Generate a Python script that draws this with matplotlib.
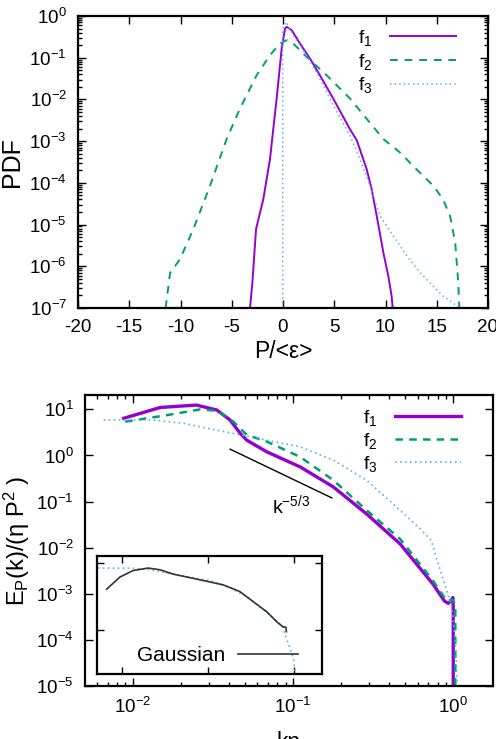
import numpy as np
import matplotlib
matplotlib.use("Agg")
from matplotlib import pyplot as plt
from matplotlib.ticker import LogLocator, NullFormatter, FixedLocator

plt.rcParams['font.family'] = ['Liberation Sans', 'DejaVu Sans']
plt.rcParams['mathtext.fontset'] = 'custom'
plt.rcParams['mathtext.rm'] = 'Liberation Sans'
plt.rcParams['mathtext.it'] = 'Liberation Sans:italic'
plt.rcParams['axes.unicode_minus'] = False
plt.rcParams['font.size'] = 13.5

C1 = '#9400d3'
C2 = '#009e73'
C3 = '#56b4e9'

# ---- top panel: PDF of P/<eps>
pdf1_x = [-3.22, -2.99, -2.63, -1.92, -1.27, -0.62, -0.13, 0.2, 0.36, 0.85, 1.66, 2.63,
          3.6, 4.9, 6.5, 7.2, 8.16, 8.65, 9.14, 9.79, 10.28, 10.6, 10.7]
pdf1_y = [1e-7, 10**-6.4, 10**-5.11, 10**-4.39, 10**-3.43, 10**-1.98, 10**-0.78, 10**-0.3,
          10**-0.26, 10**-0.34, 10**-0.66, 10**-1.02, 10**-1.42, 10**-1.98, 10**-2.7,
          10**-2.98, 10**-3.67, 10**-4.15, 10**-4.79, 10**-5.67, 10**-6.24, 10**-6.72, 1e-7]

pdf2_x = [-11.45, -11.02, -10.05, -8.75, -7.12, -5.5, -4.2, -2.57, -1.27, -0.29, 0.36, 1.0,
          2.3, 4.26, 6.54, 9.79, 11.4, 13.0, 14.67, 15.6, 16.3, 16.8, 17.1, 17.2]
pdf2_y = [1e-7, 10**-6.16, 10**-5.83, 10**-5.11, 10**-4.07, 10**-2.95, 10**-2.22, 10**-1.42,
          10**-0.94, 10**-0.66, 10**-0.58, 10**-0.66, 10**-0.98, 10**-1.42, 10**-1.98,
          10**-2.95, 10**-3.27, 10**-3.67, 10**-4.07, 10**-4.39, 10**-4.79, 10**-5.43,
          10**-6.4, 1e-7]

pdf3_x = [-0.03, -0.03, 0.29, 1.0, 2.3, 3.6, 4.9, 6.54, 7.5, 8.49, 9.46, 10.76, 12.07,
          13.4, 14.67, 15.64, 16.6, 17.1]
pdf3_y = [1e-7, 10**-0.3, 10**-0.14, 10**-0.46, 10**-0.94, 10**-1.5, 10**-2.14, 10**-2.87,
          10**-3.43, 10**-4.07, 10**-4.79, 10**-5.27, 10**-5.75, 10**-6.16, 10**-6.48,
          10**-6.72, 10**-6.88, 1e-7]

# ---- bottom panel: spectra
k1 = [0.0088, 0.0149, 0.025, 0.0335, 0.0405, 0.047, 0.0515, 0.0687, 0.111, 0.179, 0.288,
      0.466, 0.75, 0.88, 0.93, 0.975, 0.995, 1.0, 1.0]
E1 = [6.4, 11, 12.4, 9.7, 5.9, 3.0, 2.15, 1.2, 0.565, 0.207, 0.054, 0.0121, 0.0016,
      7.0e-4, 6.2e-4, 7.2e-4, 8.3e-4, 5e-4, 1e-6]

k2 = [0.009, 0.0164, 0.0264, 0.034, 0.0426, 0.0515, 0.0687, 0.111, 0.179, 0.288, 0.466,
      0.75, 0.91, 0.98, 1.03, 1.03]
E2 = [5.4, 7.5, 10, 9.3, 5.4, 2.8, 2.0, 0.93, 0.29, 0.065, 0.0155, 0.0019, 7e-4, 7.5e-4,
      6e-4, 1e-6]

k3 = [0.0066, 0.0088, 0.0129, 0.0208, 0.0291, 0.0426, 0.0625, 0.111, 0.179, 0.288, 0.466,
      0.62, 0.73, 0.78, 0.91, 0.98, 1.03, 1.06, 1.08]
E3 = [5.9, 5.9, 5.9, 5.0, 3.9, 3.0, 2.3, 1.54, 0.79, 0.29, 0.065, 0.026, 0.0143, 0.0063,
      0.0012, 5e-4, 1e-4, 1e-5, 1e-6]

# inset: Gaussian field spectrum vs f3
kg = [0.0066, 0.0094, 0.0134, 0.020, 0.0274, 0.039, 0.080, 0.149, 0.233, 0.333, 0.477,
      0.624, 0.733, 0.80, 0.81]
Eg = [0.67, 2.34, 4.6, 5.96, 5.0, 3.2, 1.77, 1.05, 0.526, 0.186, 0.066, 0.0234, 0.0139,
      0.0131, 0.0083]
k3i = [0.0052] + k3
E3i = [5.9] + E3

# k^-5/3 reference
kref = np.array([0.0406, 0.175])
Eref = 1.37 * (kref / kref[0]) ** (-5.0 / 3.0)

fig = plt.figure(figsize=(4.96, 7.39), dpi=100)

def style(ax):
    ax.tick_params(which='both', direction='in', top=True, right=True, width=1.0, pad=8)
    ax.tick_params(which='major', length=6)
    ax.tick_params(which='minor', length=3)
    for s in ax.spines.values():
        s.set_linewidth(1.6)

ax1 = fig.add_axes([78 / 496, 1 - 308 / 739, 410 / 496, 292 / 739])
ax1.plot(pdf1_x, pdf1_y, color=C1, lw=1.4, label='f$_1$')
ax1.plot(pdf2_x, pdf2_y, color=C2, lw=1.4, ls=(0, (4, 3.5)), label='f$_2$')
ax1.plot(pdf3_x, pdf3_y, color=C3, lw=1.1, ls=(0, (1, 2)), label='f$_3$')
ax1.set_yscale('log')
ax1.set_xlim(-20, 20)
ax1.set_ylim(1e-7, 1)
ax1.set_xticks(range(-20, 21, 5))
ax1.yaxis.set_major_locator(LogLocator(base=10, numticks=10))
ax1.yaxis.set_minor_locator(LogLocator(base=10, subs=np.arange(2, 10), numticks=20))
ax1.yaxis.set_minor_formatter(NullFormatter())
style(ax1)
ax1.set_xlabel('P/<ε>', fontsize=16.5, labelpad=3)
ax1.set_ylabel('PDF', fontsize=18, labelpad=4)
ax1.legend(loc='upper right', bbox_to_anchor=(0.95, 1.0), frameon=False, markerfirst=False,
           handlelength=3.4, labelspacing=0.2, handletextpad=0.9, borderaxespad=0.2,
           fontsize=14)

ax2 = fig.add_axes([85 / 496, 1 - 686 / 739, 408 / 496, 291 / 739])
ax2.plot(k1, E1, color=C1, lw=2.4, label='f$_1$')
ax2.plot(k2, E2, color=C2, lw=1.8, ls=(0, (3, 2.5)), label='f$_2$')
ax2.plot(k3, E3, color=C3, lw=1.2, ls=(0, (1, 2)), label='f$_3$')
ax2.plot(kref, Eref, color='black', lw=1.0)
ax2.text(0.097, 0.055, r'k$^{-5/3}$', ha='center', va='baseline', fontsize=14)
ax2.set_xscale('log')
ax2.set_yscale('log')
ax2.set_xlim(0.00505, 1.77)
ax2.set_ylim(1e-5, 20.5)
ax2.yaxis.set_major_locator(LogLocator(base=10, numticks=10))
ax2.yaxis.set_minor_locator(FixedLocator([]))
ax2.xaxis.set_minor_locator(LogLocator(base=10, subs=np.arange(2, 10), numticks=20))
ax2.xaxis.set_minor_formatter(NullFormatter())
style(ax2)
ax2.set_xlabel('kη', fontsize=16.5, labelpad=10)
ax2.set_ylabel(r'E$_\mathregular{P}$(k)/(η P$^2$ )', fontsize=17, labelpad=3)
ax2.legend(loc='upper right', bbox_to_anchor=(0.95, 0.995), frameon=False, markerfirst=False,
           handlelength=3.4, labelspacing=0.15, handletextpad=0.9, borderaxespad=0.2,
           fontsize=14)

ax3 = fig.add_axes([97 / 496, 1 - 674 / 739, 225 / 496, 118 / 739])
ax3.plot(k3i, E3i, color=C3, lw=1.2, ls=(0, (1, 2)))
ax3.plot(kg, Eg, color='#333333', lw=1.2, label='Gaussian')
ax3.set_xscale('log')
ax3.set_yscale('log')
ax3.set_xlim(0.0051, 2.1)
ax3.set_ylim(1.05e-4, 20.7)
ax3.xaxis.set_major_locator(FixedLocator([0.01, 0.1, 1.0]))
ax3.xaxis.set_minor_locator(FixedLocator([]))
ax3.yaxis.set_major_locator(FixedLocator([10, 0.01]))
ax3.yaxis.set_minor_locator(FixedLocator([]))
ax3.set_xticklabels([])
ax3.set_yticklabels([])
style(ax3)
ax3.tick_params(which='major', length=5)
ax3.legend(loc='lower right', bbox_to_anchor=(0.95, -0.03), frameon=False, markerfirst=False,
           handlelength=2.9, handletextpad=0.6, borderaxespad=0.2, fontsize=15)

fig.savefig('out.png', dpi=100)
